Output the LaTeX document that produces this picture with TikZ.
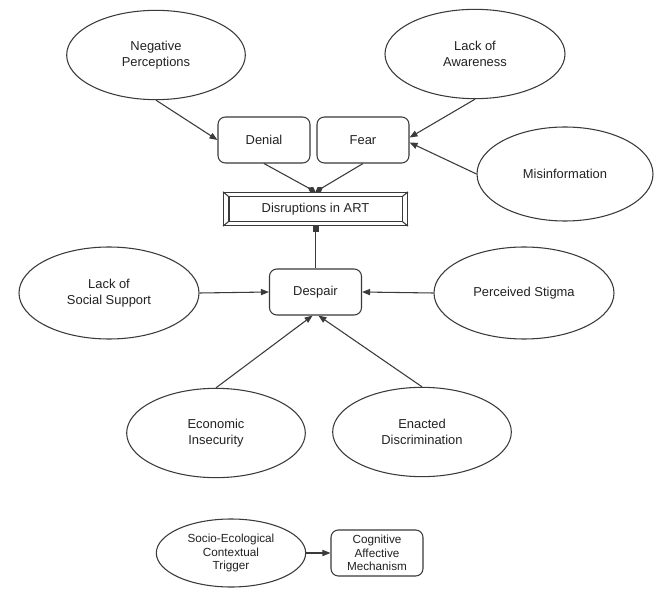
\documentclass[tikz,border=0pt]{standalone}
\usepackage{fontspec}
\setmainfont{Liberation Sans}
\usetikzlibrary{shapes.geometric,arrows.meta,calc}
\definecolor{lc}{HTML}{3A3A3A}
\definecolor{tc}{HTML}{222222}
\begin{document}
\begin{tikzpicture}[x=0.75pt,y=-0.75pt,
  every path/.style={draw=lc, line width=0.8pt},
  ell/.style={ellipse, draw=lc, line width=0.8pt, inner sep=0pt, minimum width=134pt, minimum height=67pt, align=center, text=tc, font=\fontsize{9.7}{11.6}\selectfont},
  box/.style={rectangle, rounded corners=5.5pt, draw=lc, line width=0.8pt, inner sep=0pt, minimum width=69pt, minimum height=34.5pt, align=center, text=tc, font=\fontsize{9.7}{11.6}\selectfont},
  smallell/.style={ell, minimum width=112pt, minimum height=51pt, font=\fontsize{8.8}{10.1}\selectfont},
  smallbox/.style={box, font=\fontsize{8.8}{10.1}\selectfont},
  frame/.style={rectangle, draw=lc, line width=0.8pt, inner sep=0pt, minimum width=138pt, minimum height=25pt, text=tc, font=\fontsize{9.7}{11.6}\selectfont},
  arr/.style={draw=lc, line width=0.8pt, -{Triangle[length=6pt,width=4.6pt]}},
  darr/.style={draw=lc, line width=0.8pt, -{Diamond[length=6.5pt,width=4.6pt]}},
  sarr/.style={draw=lc, line width=0.8pt, -{Square[length=4.5pt,width=4.5pt]}}
]
\path[use as bounding box, fill=white, draw=none] (0,0) rectangle (671,599);

% ellipses
\node[ell] (np) at (156,55) {Negative\\Perceptions};
\node[ell, minimum width=135pt] (la) at (475,54) {Lack of\\Awareness};
\node[ell, minimum width=132pt, minimum height=70.5pt] (mis) at (565,174) {Misinformation};
\node[ell, minimum width=135pt, minimum height=69pt] (lss) at (109,293) {Lack of\\Social Support};
\node[ell, minimum width=135pt, minimum height=69pt] (ps) at (524,293) {Perceived Stigma};
\node[ell] (ei) at (216,433) {Economic\\Insecurity};
\node[ell] (ed) at (422,432) {Enacted\\Discrimination};
\node[smallell] (soc) at (231,553) {Socio-Ecological\\Contextual\\Trigger};

% boxes
\node[box] (denial) at (264,140) {Denial};
\node[box] (fear) at (363,140) {Fear};
\node[frame] (disr) at (315.5,209) {Disruptions in ART};
\draw ($(disr.north west)+(6,5)$) rectangle ($(disr.south east)+(-6,-5)$);
\draw (disr.north west) -- ($(disr.north west)+(6,5)$);
\draw (disr.north east) -- ($(disr.north east)+(-6,5)$);
\draw (disr.south west) -- ($(disr.south west)+(6,-5)$);
\draw (disr.south east) -- ($(disr.south east)+(-6,-5)$);
\node[box] (despair) at (315.5,292) {Despair};
\node[smallbox] (cog) at (377,553) {Cognitive\\Affective\\Mechanism};

% connectors
\draw[arr] (np.south) -- (denial.west);
\draw[arr] (la.south) -- (fear.3);
\draw[arr] (mis.west) -- (fear.-3);
\draw[darr] (denial.south) -- (disr.north);
\draw[darr] (fear.south) -- (disr.north);
\draw[sarr] (despair.north) -- (disr.south);
\draw[arr] (lss.east) -- (despair.west);
\draw[arr] (ps.west) -- (despair.east);
\draw[arr] (ei.north) -- (despair.-97);
\draw[arr] (ed.north) -- (despair.-83);
\draw[arr] (soc.east) -- (cog.west);
\end{tikzpicture}
\end{document}
